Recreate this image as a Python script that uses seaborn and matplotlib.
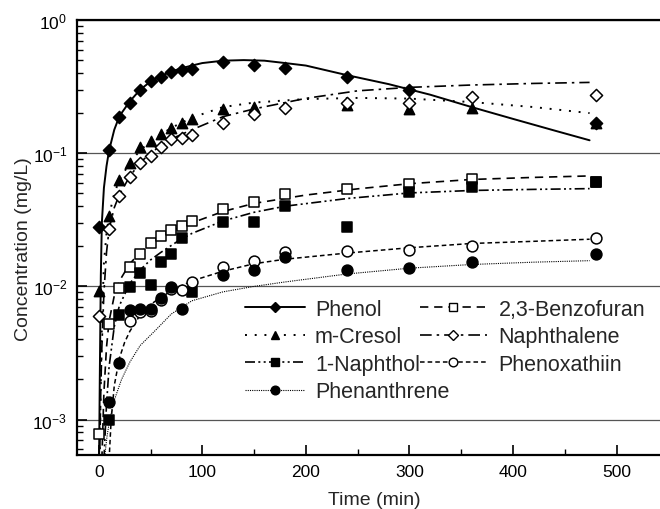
import numpy as np
import matplotlib.pyplot as plt
from matplotlib.lines import Line2D
from matplotlib.ticker import MultipleLocator, LogLocator, NullFormatter
import seaborn as sns

nan = np.nan

# sampling times (min)
t_obs = [0, 10, 20, 30, 40, 50, 60, 70, 80, 90, 120, 150, 180, 240, 300, 360, 480]

phenol = [0.028, 0.105, 0.186, 0.237, 0.299, 0.351, 0.376, 0.407, 0.422, 0.431,
          0.484, 0.462, 0.434, 0.376, 0.300, nan, 0.170]
m_cresol = [0.0093, 0.034, 0.063, 0.084, 0.112, 0.124, 0.140, 0.154, 0.168, 0.180,
            0.216, 0.224, nan, 0.230, 0.214, 0.217, 0.170]
benzofuran = [0.00078, 0.0052, 0.0098, 0.0141, 0.0175, 0.021, 0.0237, 0.0265, 0.0285, 0.0311,
              0.038, 0.0427, 0.0498, 0.0543, 0.0592, 0.0638, 0.0613]
naphthalene = [0.0060, 0.0269, 0.0479, 0.0657, 0.0841, 0.0955, 0.1116, 0.127, 0.129, 0.136,
               0.168, 0.196, 0.220, 0.237, 0.240, 0.262, 0.274]
naphthol = [nan, 0.0010, 0.0061, 0.0099, 0.0125, 0.0103, 0.0153, 0.0174, 0.0232, 0.0090,
            0.0305, 0.0305, 0.0398, 0.0280, 0.0513, 0.0559, 0.0603]
phenoxathiin = [nan, nan, nan, 0.0055, 0.0064, 0.0065, 0.0079, 0.0096, 0.0094, 0.0107,
                0.0140, 0.0156, 0.0182, 0.0185, 0.0188, 0.0202, 0.0232]
phenanthrene = [nan, 0.00135, 0.00265, 0.0066, 0.0068, 0.0068, 0.0082, 0.0099, 0.0068, nan,
                0.0122, 0.0133, 0.0165, 0.0133, 0.0137, 0.0153, 0.0174]

# fitted model curves
phenol_fit_t = [0.2, 1, 2, 3, 5, 7.5, 10, 15, 20, 30, 40, 50, 60, 70, 80, 90, 100, 120, 140,
                160, 180, 200, 240, 280, 320, 360, 400, 440, 474]
phenol_fit = [0.0004, 0.002, 0.012, 0.03, 0.055, 0.08, 0.105, 0.15, 0.19, 0.245, 0.30, 0.345,
              0.38, 0.41, 0.435, 0.455, 0.475, 0.495, 0.50, 0.495, 0.475, 0.455, 0.385, 0.33,
              0.275, 0.222, 0.181, 0.148, 0.125]
m_cresol_fit_t = [1, 2, 3, 5, 7.5, 10, 15, 20, 30, 40, 50, 60, 75, 90, 120, 150, 200, 250,
                  300, 360, 420, 474]
m_cresol_fit = [0.0006, 0.002, 0.005, 0.015, 0.025, 0.034, 0.05, 0.063, 0.085, 0.105, 0.123,
                0.139, 0.162, 0.185, 0.222, 0.240, 0.255, 0.260, 0.257, 0.242, 0.222, 0.200]
benzofuran_fit_t = [3, 5, 7.5, 10, 15, 20, 30, 40, 50, 60, 75, 90, 120, 150, 200, 250, 300,
                    360, 420, 474]
benzofuran_fit = [0.0005, 0.0016, 0.0035, 0.0055, 0.0085, 0.011, 0.0148, 0.018, 0.021, 0.0235,
                  0.027, 0.030, 0.0365, 0.042, 0.0485, 0.054, 0.059, 0.0635, 0.0658, 0.0675]
naphthalene_fit_t = [1, 2, 3, 5, 7.5, 10, 15, 20, 30, 40, 50, 60, 75, 90, 120, 150, 200, 250,
                     300, 360, 420, 474]
naphthalene_fit = [0.0006, 0.0017, 0.0035, 0.009, 0.018, 0.027, 0.039, 0.049, 0.067, 0.085,
                   0.100, 0.114, 0.133, 0.150, 0.188, 0.215, 0.258, 0.294, 0.312, 0.325,
                   0.334, 0.340]
naphthol_fit_t = [5, 7.5, 10, 15, 20, 30, 40, 50, 60, 75, 90, 120, 150, 180, 240, 300, 360,
                  420, 474]
naphthol_fit = [0.0005, 0.0013, 0.0025, 0.005, 0.0072, 0.0105, 0.0133, 0.0158, 0.018, 0.0215,
                0.025, 0.031, 0.036, 0.040, 0.0457, 0.0503, 0.0525, 0.0535, 0.0542]
phenoxathiin_fit_t = [10, 12, 15, 20, 25, 30, 40, 50, 60, 75, 90, 120, 150, 180, 240, 300,
                      360, 420, 474]
phenoxathiin_fit = [0.0005, 0.001, 0.0018, 0.0029, 0.0038, 0.0046, 0.0061, 0.0073, 0.0083,
                    0.0097, 0.011, 0.013, 0.0148, 0.016, 0.0178, 0.0195, 0.021, 0.0218, 0.0226]
phenanthrene_fit_t = [6, 8, 10.6, 15, 22, 30, 40, 55, 70, 90, 120, 150, 180, 240, 300, 360,
                      420, 474]
phenanthrene_fit = [0.00055, 0.00075, 0.001, 0.0014, 0.002, 0.0027, 0.0036, 0.0047, 0.0062,
                    0.0078, 0.0091, 0.010, 0.0108, 0.0124, 0.0137, 0.0146, 0.0152, 0.0156]

series = {
    'Phenol': (phenol, phenol_fit_t, phenol_fit),
    'm-Cresol': (m_cresol, m_cresol_fit_t, m_cresol_fit),
    '2,3-Benzofuran': (benzofuran, benzofuran_fit_t, benzofuran_fit),
    'Naphthalene': (naphthalene, naphthalene_fit_t, naphthalene_fit),
    '1-Naphthol': (naphthol, naphthol_fit_t, naphthol_fit),
    'Phenoxathiin': (phenoxathiin, phenoxathiin_fit_t, phenoxathiin_fit),
    'Phenanthrene': (phenanthrene, phenanthrene_fit_t, phenanthrene_fit),
}

# line style, marker, marker size (pt), face colour, line width
styles = {
    'Phenol': ('-', 'D', 6.2, 'black', 1.4),
    'm-Cresol': ((0, (1, 4)), '^', 7.4, 'black', 1.4),
    '2,3-Benzofuran': ((0, (5, 3.5)), 's', 6.6, 'white', 1.2),
    'Naphthalene': ((0, (7, 3, 1.5, 3)), 'D', 6.2, 'white', 1.2),
    '1-Naphthol': ((0, (6, 2, 1.2, 2, 1.2, 2)), 's', 6.6, 'black', 1.2),
    'Phenoxathiin': ((0, (3, 2)), 'o', 7.8, 'white', 1.1),
    'Phenanthrene': ((0, (1, 1)), 'o', 7.8, 'black', 0.8),
}

sns.set_style('ticks')
plt.rcParams['font.family'] = ['Liberation Sans', 'DejaVu Sans']
plt.rcParams['mathtext.default'] = 'regular'

fig = plt.figure(figsize=(6.6, 5.1), dpi=100)
ax = fig.add_axes([77 / 660, 54.3 / 510, 583 / 660, 434.7 / 510])

for name, (obs, ft, fc) in series.items():
    ls, mk, ms, face, lw = styles[name]
    sns.lineplot(x=ft, y=fc, ax=ax, color='black', lw=lw, linestyle=ls, zorder=2)
    sns.scatterplot(x=t_obs, y=obs, ax=ax, marker=mk, s=ms ** 2, color=face,
                    edgecolor='black', linewidth=1.1, zorder=3)

ax.set_yscale('log')
ax.set_ylim(5.45e-4, 1)
ax.set_xlim(-21, 542)
ax.xaxis.set_major_locator(MultipleLocator(100))
ax.xaxis.set_minor_locator(MultipleLocator(50))
ax.yaxis.set_major_locator(LogLocator(base=10))
ax.yaxis.set_minor_locator(LogLocator(base=10, subs=np.arange(2, 10)))
ax.yaxis.set_minor_formatter(NullFormatter())

ax.grid(axis='y', which='major', color='#555555', lw=0.9)
ax.grid(axis='x', visible=False)
ax.set_axisbelow(True)

for side in ['left', 'bottom', 'top']:
    ax.spines[side].set_linewidth(1.6)
    ax.spines[side].set_color('black')
ax.spines['right'].set_visible(False)

ax.tick_params(which='both', direction='in', top=False, right=False, colors='black',
               labelsize=12.5)
ax.tick_params(which='major', length=7, width=1.2, pad=7)
ax.tick_params(which='minor', length=4, width=1.0)

ax.set_xlabel('Time (min)', fontsize=14)
ax.set_ylabel('Concentration (mg/L)', fontsize=14)
ax.xaxis.set_label_coords(0.51, -0.083)
ax.yaxis.set_label_coords(-0.077, 0.475)


def handle(name):
    ls, mk, ms, face, lw = styles[name]
    return Line2D([], [], color='black', linestyle=ls, lw=lw, marker=mk,
                  markersize=ms * 0.8, markerfacecolor=face, markeredgecolor='black',
                  markeredgewidth=1.0)


col1 = ['Phenol', 'm-Cresol', '1-Naphthol', 'Phenanthrene']
col2 = ['2,3-Benzofuran', 'Naphthalene', 'Phenoxathiin']

leg_kw = dict(loc='upper left', bbox_transform=fig.transFigure, frameon=False, fontsize=15.5,
              labelspacing=0.3, borderpad=0, borderaxespad=0, numpoints=1)
leg1 = ax.legend([handle(n) for n in col1], col1, bbox_to_anchor=(245 / 660, 1 - 300 / 510),
                 handlelength=2.8, handletextpad=0.45, **leg_kw)
ax.add_artist(leg1)
ax.legend([handle(n) for n in col2], col2, bbox_to_anchor=(420 / 660, 1 - 300 / 510),
          handlelength=3.1, handletextpad=0.55, **leg_kw)

fig.savefig('out.png', dpi=100)
